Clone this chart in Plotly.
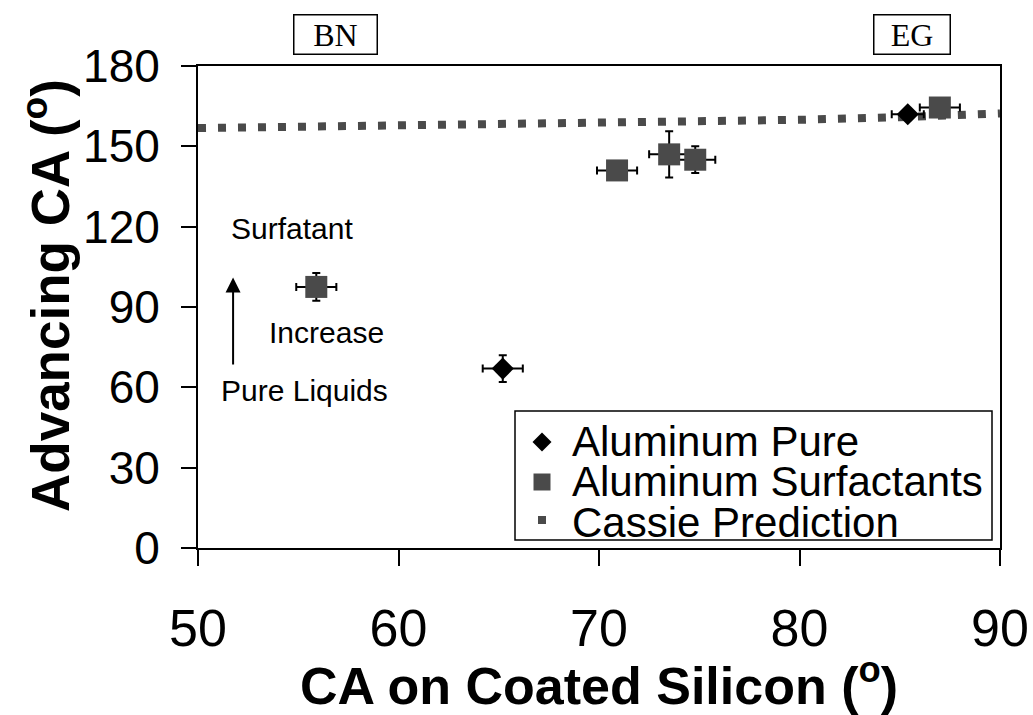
import plotly.graph_objects as go

# Aluminum, pure liquids
pure_x = [65.2, 85.4]
pure_y = [67.0, 162.0]
pure_xerr = [1.0, 0.8]
pure_yerr = [5.0, 1.0]

# Aluminum, liquids with surfactant
surf_x = [55.9, 70.9, 73.5, 74.8, 87.0]
surf_y = [97.5, 141.0, 147.0, 145.0, 164.5]
surf_xerr = [1.0, 1.0, 1.0, 1.0, 1.0]
surf_yerr = [5.2, 2.0, 8.6, 5.0, 2.0]

# Cassie prediction curve
cassie_x = [50, 60, 70, 80, 85, 90]
cassie_y = [156.8, 157.6, 158.5, 159.9, 160.9, 162.3]

x_ticks = [50, 60, 70, 80, 90]
y_ticks = [0, 30, 60, 90, 120, 150, 180]

legend_labels = ["Aluminum Pure", "Aluminum Surfactants", "Cassie Prediction"]

FONT = "Arial, Liberation Sans, sans-serif"
SERIF = "Times New Roman, Liberation Serif, serif"
GREY = "#4a4a4a"

W, H = 1033, 715
ML, MR, MT, MB = 198, 33, 66, 167
PW, PH = W - ML - MR, H - MT - MB


def px(xp):
    """Page pixel column -> paper x."""
    return (xp - ML) / PW


def py(yp):
    """Page pixel row -> paper y."""
    return (H - MB - yp) / PH


fig = go.Figure()

fig.add_trace(go.Scatter(
    x=cassie_x, y=cassie_y, mode="lines", name=legend_labels[2],
    line=dict(color=GREY, width=8, dash="8px,12px"),
))

fig.add_trace(go.Scatter(
    x=pure_x, y=pure_y, mode="markers", name=legend_labels[0],
    marker=dict(symbol="diamond", size=17, color="black"),
    error_x=dict(type="data", array=pure_xerr, color="black", thickness=2, width=4),
    error_y=dict(type="data", array=pure_yerr, color="black", thickness=2, width=4),
))

fig.add_trace(go.Scatter(
    x=surf_x, y=surf_y, mode="markers", name=legend_labels[1],
    marker=dict(symbol="square", size=22, color=GREY),
    error_x=dict(type="data", array=surf_xerr, color="black", thickness=2, width=4),
    error_y=dict(type="data", array=surf_yerr, color="black", thickness=2, width=4),
))

text_font = dict(family=FONT, size=30, color="black")
box_font = dict(family=SERIF, size=32, color="black")
annotations = [
    dict(x=54.7, y=119.5, text="Surfatant", showarrow=False, font=text_font),
    dict(x=56.4, y=80.3, text="Increase", showarrow=False, font=text_font),
    dict(x=55.3, y=59.0, text="Pure Liquids", showarrow=False, font=text_font),
    dict(x=51.75, y=101, ax=51.75, ay=68, xref="x", yref="y", axref="x", ayref="y",
         text="", showarrow=True, arrowhead=2, arrowsize=1.5, arrowwidth=2,
         arrowcolor="black"),
    dict(x=px(335), y=py(34), xref="paper", yref="paper", xanchor="center",
         yanchor="middle", text="BN", showarrow=False, bordercolor="black",
         borderwidth=1.5, borderpad=0, bgcolor="white", font=box_font,
         width=82, height=38),
    dict(x=px(912), y=py(34), xref="paper", yref="paper", xanchor="center",
         yanchor="middle", text="EG", showarrow=False, bordercolor="black",
         borderwidth=1.5, borderpad=0, bgcolor="white", font=box_font,
         width=75, height=38),
    # y-axis title
    dict(x=px(46), y=py(296), xref="paper", yref="paper", xanchor="center",
         yanchor="middle", textangle=-90, showarrow=False,
         text="<b>Advancing CA (<sup>o</sup>)</b>",
         font=dict(family=FONT, size=53, color="black")),
]

# Legend panel: frame, symbols and labels
row_y = [442, 482, 520]
sym_x = 542
shapes = [
    dict(type="rect", xref="paper", yref="paper", x0=px(515), x1=px(992),
         y0=py(540), y1=py(411), line=dict(color="black", width=1.5),
         fillcolor="white", layer="above"),
]
# diamond
cx, cy, r = sym_x, row_y[0], 9.5
shapes.append(dict(
    type="path", xref="paper", yref="paper", layer="above",
    path=(f"M {px(cx - r)} {py(cy)} L {px(cx)} {py(cy - r)} "
          f"L {px(cx + r)} {py(cy)} L {px(cx)} {py(cy + r)} Z"),
    fillcolor="black", line=dict(width=0),
))
# large square
cy, r = row_y[1], 8.5
shapes.append(dict(
    type="rect", xref="paper", yref="paper", layer="above",
    x0=px(sym_x - r), x1=px(sym_x + r), y0=py(cy + r), y1=py(cy - r),
    fillcolor=GREY, line=dict(width=0),
))
# small square
cy, r = row_y[2], 4
shapes.append(dict(
    type="rect", xref="paper", yref="paper", layer="above",
    x0=px(sym_x - r), x1=px(sym_x + r), y0=py(cy + r), y1=py(cy - r),
    fillcolor=GREY, line=dict(width=0),
))
# Legend labels as one block: line pitch follows the 31px base font,
# glyphs are drawn at 42px.
legend_text = "<br>".join(
    f"<span style='font-size:42px'>{label}</span>" for label in legend_labels
)
annotations.append(dict(
    x=px(570), y=py(row_y[1]), xref="paper", yref="paper", xanchor="left",
    yanchor="middle", align="left", text=legend_text, showarrow=False,
    font=dict(family=FONT, size=31, color="black"),
))

fig.update_layout(
    width=W, height=H,
    margin=dict(l=ML, r=MR, t=MT, b=MB),
    paper_bgcolor="white", plot_bgcolor="white",
    font=dict(family=FONT, color="black"),
    showlegend=False,
    annotations=annotations,
    shapes=shapes,
    xaxis=dict(
        range=[50, 90], tickvals=x_ticks, ticks="outside", ticklen=16,
        tickwidth=2, tickcolor="black", linecolor="black", linewidth=2,
        mirror=True, showgrid=False, zeroline=False, automargin=False,
        tickfont=dict(family=FONT, size=52), ticklabelstandoff=18,
        title=dict(text="<b>CA on Coated Silicon (<sup>o</sup>)</b>",
                   font=dict(family=FONT, size=52), standoff=2),
    ),
    yaxis=dict(
        range=[0, 180], tickvals=y_ticks, ticks="outside", ticklen=15,
        tickwidth=2, tickcolor="black", linecolor="black", linewidth=2,
        mirror=True, showgrid=False, zeroline=False, automargin=False,
        tickfont=dict(family=FONT, size=46), ticklabelstandoff=12,
    ),
)

fig.write_html("out.html")
